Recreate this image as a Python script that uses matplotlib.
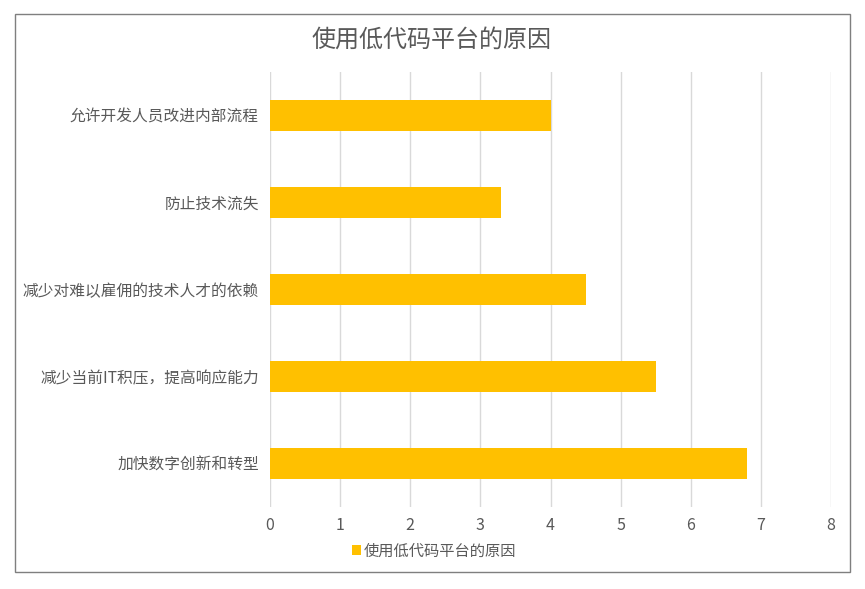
import matplotlib
matplotlib.use("Agg")
import matplotlib.pyplot as plt
from matplotlib.patches import Rectangle

plt.rcParams['font.family'] = ['Noto Sans CJK SC', 'DejaVu Sans']

categories = ["允许开发人员改进内部流程", "防止技术流失", "减少对难以雇佣的技术人才的依赖",
              "减少当前IT积压，提高响应能力", "加快数字创新和转型"]
values = [4.0, 3.3, 4.5, 5.5, 6.8]
series_name = "使用低代码平台的原因"
title = "使用低代码平台的原因"
xticks = [0, 1, 2, 3, 4, 5, 6, 7, 8]

W, H = 865, 589
fig = plt.figure(figsize=(W/100, H/100), dpi=100)
fig.patches.append(Rectangle((15/W, 1-572/H), (850-15)/W, (572-14)/H,
                             transform=fig.transFigure, fill=False,
                             edgecolor='#7f7f7f', linewidth=1.0))

ax = fig.add_axes([270/W, 1-507/H, (831-270)/W, (507-72)/H])
y = list(range(len(categories)))
ax.barh(y, values, height=0.35, color='#FFC000', zorder=3, label=series_name)
ax.set_ylim(len(categories)-0.5, -0.5)
ax.set_xlim(0, 8)
ax.set_xticks(xticks)
ax.set_yticks(y)
ax.set_yticklabels(categories, fontsize=11.3, color='#595959')
ax.tick_params(axis='x', labelsize=11.5, colors='#595959', length=0, pad=7)
ax.tick_params(axis='y', length=0, pad=8)
ax.grid(axis='x', color='#d9d9d9', linewidth=1.0, zorder=0)
for s in ax.spines.values():
    s.set_visible(False)

fig.text(432/W, 1-40/H, title, ha='center', va='center', fontsize=17.3, color='#595959')

leg = ax.legend(loc='center', bbox_to_anchor=(434/W, 1-551/H), bbox_transform=fig.transFigure,
                frameon=False, fontsize=11, handlelength=0.6, handleheight=0.6,
                handletextpad=0.2, labelcolor='#595959')

fig.savefig("out.png", dpi=100)
